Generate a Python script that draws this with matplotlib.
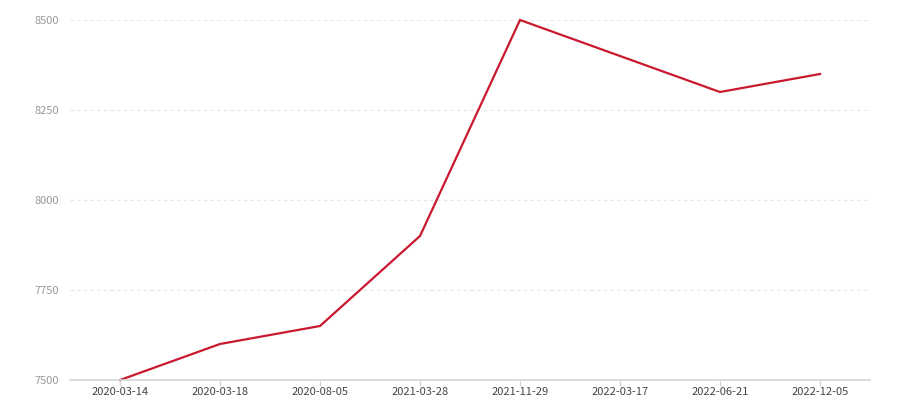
import matplotlib.pyplot as plt

dates = ['2020-03-14', '2020-03-18', '2020-08-05', '2021-03-28',
         '2021-11-29', '2022-03-17', '2022-06-21', '2022-12-05']
values = [7500, 7600, 7650, 7900, 8500, 8400, 8300, 8350]
yticks = [7500, 7750, 8000, 8250, 8500]

plt.rcParams['font.family'] = ['Noto Sans CJK SC', 'DejaVu Sans']

fig = plt.figure(figsize=(9, 4), dpi=100)
ax = fig.add_axes([70/900, 20/400, 800/900, 360/400])

x = list(range(len(dates)))
ax.plot(x, values, color='#c8192e', linewidth=1.6, solid_joinstyle='miter', clip_on=False)

ax.set_xlim(-0.5, len(dates) - 0.5)
ax.set_ylim(7500, 8500)
ax.set_xticks(x)
ax.set_xticklabels(dates)
ax.set_yticks(yticks)

# grid: dashed, light
for y in yticks[1:]:
    ax.axhline(y, color='#e6e6e6', linewidth=0.8, linestyle=(0, (3, 3)), zorder=0)

for s in ['top', 'right', 'left']:
    ax.spines[s].set_visible(False)
ax.spines['bottom'].set_color('#d6d6d6')
ax.spines['bottom'].set_linewidth(1.2)

ax.tick_params(axis='x', colors='#d6d6d6', length=4, width=1, labelcolor='#444444',
               labelsize=8, pad=1)
ax.tick_params(axis='y', length=0, labelcolor='#999999', labelsize=8, pad=8)

fig.savefig('out.png', dpi=100)
